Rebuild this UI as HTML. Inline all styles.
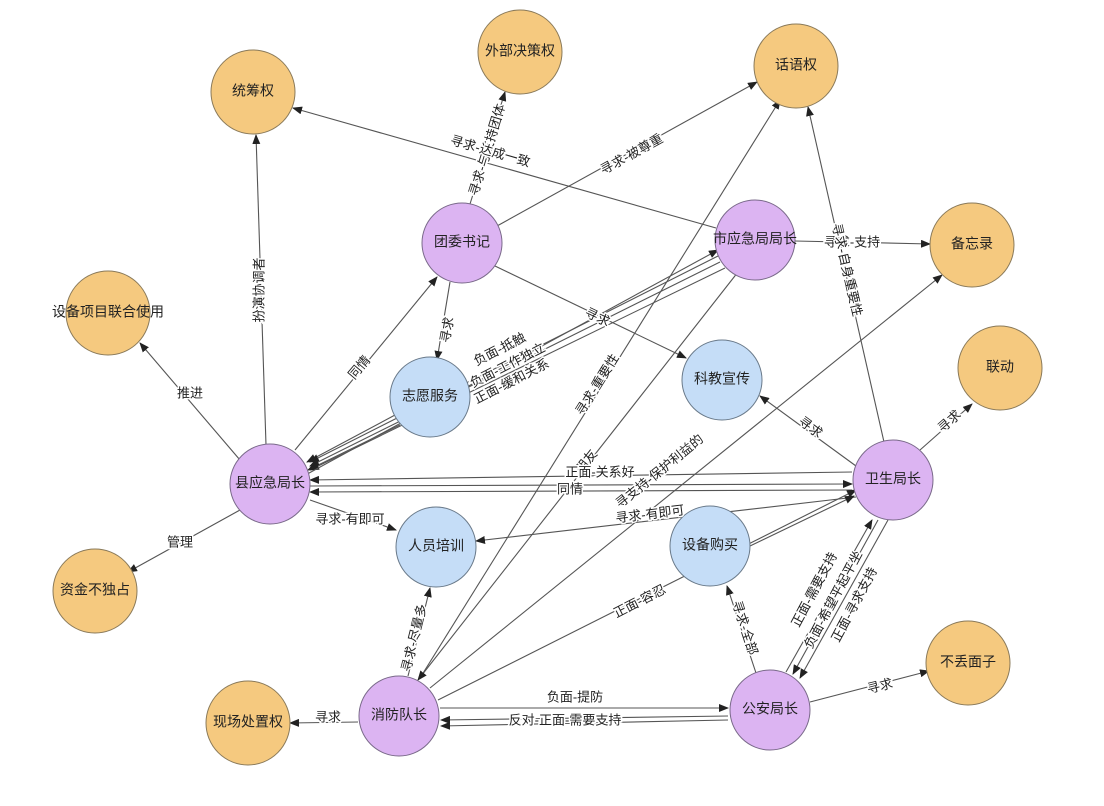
<!DOCTYPE html>
<html><head><meta charset="utf-8"><style>
html,body{margin:0;padding:0;background:#fff;}
svg{display:block;}
text{font-family:"Liberation Sans","Noto Sans CJK SC",sans-serif;fill:#222;}
.n{font-size:14px;text-anchor:middle;dominant-baseline:middle;}
.l{font-size:13px;text-anchor:middle;dominant-baseline:middle;paint-order:stroke;stroke:#fff;stroke-width:3px;}
line{stroke:#555;stroke-width:1.1;}
.o{fill:#f5c97f;stroke:#8a7a5a;stroke-width:1;}
.p{fill:#dcb4f2;stroke:#7a6a8a;stroke-width:1;}
.b{fill:#c5ddf7;stroke:#6a7a8a;stroke-width:1;}
</style></head><body>
<svg width="1104" height="806" viewBox="0 0 1104 806">
<defs><marker id="a" markerWidth="10" markerHeight="8" refX="9" refY="4" orient="auto" markerUnits="userSpaceOnUse"><path d="M0,0 L10,4 L0,8 z" fill="#222"/></marker></defs>
<g marker-end="url(#a)">
<line x1="266" y1="445" x2="256" y2="135"/>
<line x1="240" y1="460" x2="140" y2="343"/>
<line x1="240" y1="510" x2="128" y2="572"/>
<line x1="295" y1="450" x2="437" y2="277"/>
<line x1="310" y1="500" x2="396" y2="530"/>
<line x1="395" y1="415" x2="307" y2="462"/>
<line x1="400" y1="425" x2="308" y2="470"/>
<line x1="720" y1="255" x2="310" y2="462"/>
<line x1="720" y1="262" x2="310" y2="466"/>
<line x1="725" y1="268" x2="310" y2="470"/>
<line x1="300" y1="478" x2="718" y2="250"/>
<line x1="852" y1="472" x2="310" y2="480"/>
<line x1="310" y1="486" x2="852" y2="484"/>
<line x1="852" y1="490" x2="310" y2="492"/>
<line x1="450" y1="282" x2="437" y2="360"/>
<line x1="495" y1="266" x2="686" y2="358"/>
<line x1="470" y1="204" x2="505" y2="92"/>
<line x1="497" y1="226" x2="757" y2="82"/>
<line x1="716" y1="228" x2="293" y2="108"/>
<line x1="795" y1="241" x2="930" y2="244"/>
<line x1="884" y1="442" x2="808" y2="107"/>
<line x1="856" y1="466" x2="760" y2="396"/>
<line x1="920" y1="450" x2="972" y2="404"/>
<line x1="420" y1="678" x2="780" y2="100"/>
<line x1="738" y1="272" x2="418" y2="680"/>
<line x1="430" y1="688" x2="942" y2="275"/>
<line x1="856" y1="497" x2="476" y2="541"/>
<line x1="438" y1="700" x2="856" y2="490"/>
<line x1="750" y1="546" x2="854" y2="496"/>
<line x1="756" y1="673" x2="727" y2="586"/>
<line x1="786" y1="672" x2="872" y2="520"/>
<line x1="878" y1="520" x2="793" y2="674"/>
<line x1="888" y1="520" x2="800" y2="678"/>
<line x1="810" y1="702" x2="929" y2="671"/>
<line x1="440" y1="708" x2="728" y2="708"/>
<line x1="728" y1="716" x2="441" y2="720"/>
<line x1="728" y1="720" x2="441" y2="726"/>
<line x1="358" y1="722" x2="290" y2="723"/>
<line x1="408" y1="676" x2="430" y2="588"/>
</g>
<g>
<circle class="o" cx="253" cy="92" r="42"/><text class="n" x="253" y="92">统筹权</text>
<circle class="o" cx="520" cy="52" r="42"/><text class="n" x="520" y="52">外部决策权</text>
<circle class="o" cx="796" cy="66" r="42"/><text class="n" x="796" y="66">话语权</text>
<circle class="o" cx="972" cy="245" r="42"/><text class="n" x="972" y="245">备忘录</text>
<circle class="o" cx="108" cy="313" r="42"/><text class="n" x="108" y="313">设备项目联合使用</text>
<circle class="o" cx="1000" cy="368" r="42"/><text class="n" x="1000" y="368">联动</text>
<circle class="o" cx="95" cy="591" r="42"/><text class="n" x="95" y="591">资金不独占</text>
<circle class="o" cx="968" cy="663" r="42"/><text class="n" x="968" y="663">不丢面子</text>
<circle class="o" cx="248" cy="723" r="42"/><text class="n" x="248" y="723">现场处置权</text>
<circle class="p" cx="462" cy="243" r="40"/><text class="n" x="462" y="243">团委书记</text>
<circle class="p" cx="755" cy="240" r="40"/><text class="n" x="755" y="240">市应急局局长</text>
<circle class="p" cx="270" cy="484" r="40"/><text class="n" x="270" y="484">县应急局长</text>
<circle class="p" cx="893" cy="480" r="40"/><text class="n" x="893" y="480">卫生局长</text>
<circle class="p" cx="399" cy="716" r="40"/><text class="n" x="399" y="716">消防队长</text>
<circle class="p" cx="770" cy="710" r="40"/><text class="n" x="770" y="710">公安局长</text>
<circle class="b" cx="430" cy="397" r="40"/><text class="n" x="430" y="397">志愿服务</text>
<circle class="b" cx="722" cy="380" r="40"/><text class="n" x="722" y="380">科教宣传</text>
<circle class="b" cx="436" cy="547" r="40"/><text class="n" x="436" y="547">人员培训</text>
<circle class="b" cx="710" cy="546" r="40"/><text class="n" x="710" y="546">设备购买</text>
</g>
<g>
<text class="l" transform="translate(260,290) rotate(-90)">扮演协调者</text>
<text class="l" x="190" y="394">推进</text>
<text class="l" x="180" y="543">管理</text>
<text class="l" transform="translate(360,368) rotate(-50)">同情</text>
<text class="l" x="350" y="520">寻求-有即可</text>
<text class="l" transform="translate(448,330) rotate(-80)">寻求</text>
<text class="l" transform="translate(597,318) rotate(25)">寻求</text>
<text class="l" transform="translate(500,350) rotate(-27)">负面-抵触</text>
<text class="l" transform="translate(508,366) rotate(-27)">负面-工作独立</text>
<text class="l" transform="translate(512,382) rotate(-27)">正面-缓和关系</text>
<text class="l" transform="translate(488,150) rotate(-73)">寻求-与支持团体</text>
<text class="l" transform="translate(632,155) rotate(-29)">寻求-被尊重</text>
<text class="l" transform="translate(490,152) rotate(16)">寻求-达成一致</text>
<text class="l" x="852" y="243">寻求-支持</text>
<text class="l" transform="translate(846,270) rotate(77)">寻求-自身重要性</text>
<text class="l" transform="translate(810,428) rotate(36)">寻求</text>
<text class="l" transform="translate(950,422) rotate(-42)">寻求</text>
<text class="l" transform="translate(598,385) rotate(-58)">寻求-重要性</text>
<text class="l" transform="translate(587,462) rotate(-52)">朋友</text>
<text class="l" x="600" y="473">正面-关系好</text>
<text class="l" x="570" y="490">同情</text>
<text class="l" transform="translate(660,472) rotate(-39)">寻支持-保护利益的</text>
<text class="l" transform="translate(650,515) rotate(-7)">寻求-有即可</text>
<text class="l" transform="translate(640,602) rotate(-27)">正面-容忍</text>
<text class="l" transform="translate(744,628) rotate(72)">寻求-全部</text>
<text class="l" transform="translate(815,590) rotate(-62)">正面-需要支持</text>
<text class="l" transform="translate(834,600) rotate(-62)">负面-希望平起平坐</text>
<text class="l" transform="translate(855,605) rotate(-62)">正面-寻求支持</text>
<text class="l" transform="translate(880,687) rotate(-14)">寻求</text>
<text class="l" x="575" y="698">负面-提防</text>
<text class="l" x="565" y="721">反对-正面-需要支持</text>
<text class="l" x="328" y="718">寻求</text>
<text class="l" transform="translate(415,638) rotate(-76)">寻求-尽量多</text>
</g>
</svg>
</body></html>
